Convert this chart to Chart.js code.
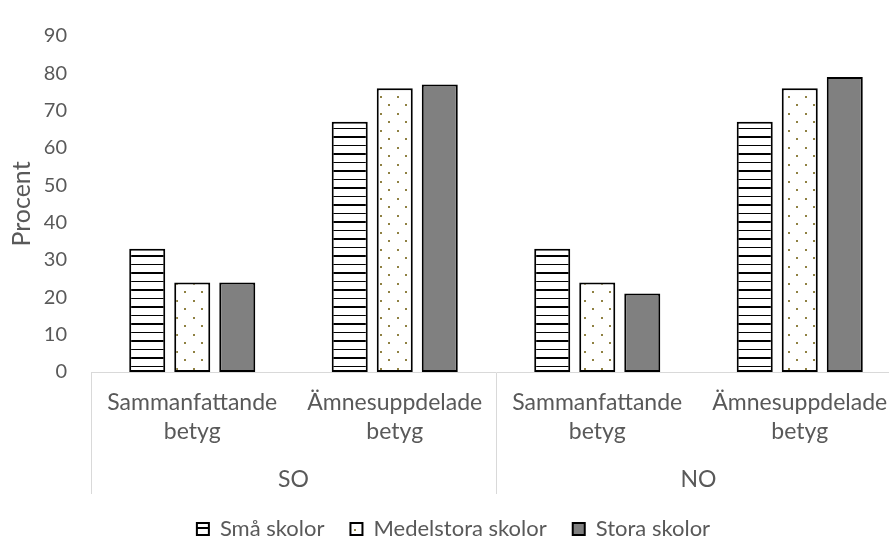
<!DOCTYPE html>
<html>
<head>
    <meta charset="utf-8">
    <script src="https://cdn.jsdelivr.net/npm/chart.js@4.4.1/dist/chart.umd.min.js"></script>
    <style>
        body { margin: 0; overflow: hidden; background: #fff; }
    </style>
</head>
<body>
    <canvas id="myChart" width="912" height="540"></canvas>

    <script>
        const categories = [['Sammanfattande', 'betyg'], ['Ämnesuppdelade', 'betyg'], ['Sammanfattande', 'betyg'], ['Ämnesuppdelade', 'betyg']];
        const subjects = ['SO', 'NO'];
        const yTicks = [0, 10, 20, 30, 40, 50, 60, 70, 80, 90];

        const smaSkolor = [33, 67, 33, 67];
        const medelstoraSkolor = [24, 76, 24, 76];
        const storaSkolor = [24, 77, 21, 79];

        const textColor = '#595959';
        const lineColor = '#d9d9d9';
        const labelSize = 23;

        // hatch fills for the bars
        function stripes() {
            const c = document.createElement('canvas');
            c.width = 17; c.height = 17;
            const g = c.getContext('2d');
            g.fillStyle = '#fff';
            g.fillRect(0, 0, 17, 17);
            g.fillStyle = '#000';
            g.fillRect(0, 0, 17, 2);
            g.fillRect(0, 9, 17, 1);
            return g.createPattern(c, 'repeat');
        }

        function dots() {
            const c = document.createElement('canvas');
            c.width = 17; c.height = 17;
            const g = c.getContext('2d');
            g.fillStyle = '#fff';
            g.fillRect(0, 0, 17, 17);
            g.fillStyle = '#8f8143';
            g.fillRect(6, 11, 2, 2);
            g.fillRect(14, 2, 2, 2);
            return g.createPattern(c, 'repeat');
        }

        Chart.defaults.font.family = 'Lato';
        Chart.defaults.font.size = labelSize;
        Chart.defaults.color = textColor;

        const data = {
            labels: categories,
            datasets: [{
                label: 'Små skolor',
                data: smaSkolor,
                backgroundColor: stripes(),
            },
            {
                label: 'Medelstora skolor',
                data: medelstoraSkolor,
                backgroundColor: dots(),
            },
            {
                label: 'Stora skolor',
                data: storaSkolor,
                backgroundColor: '#808080',
            }]
        };

        const config = {
            type: 'bar',
            data: data,
            options: {
                responsive: false,
                animation: false,
                categoryPercentage: 0.667,
                barPercentage: 0.8,
                datasets: {
                    bar: {
                        borderColor: '#000',
                        borderWidth: 2,
                        borderSkipped: false
                    }
                },
                layout: {
                    padding: { top: 24, right: 11, bottom: -10, left: 6 }
                },
                plugins: {
                    legend: {
                        position: 'bottom',
                        labels: {
                            boxWidth: 12,
                            boxHeight: 12,
                            padding: 26,
                            font: { size: 22 }
                        }
                    },
                    tooltip: { enabled: false }
                },
                scales: {
                    x: {
                        offset: true,
                        ticks: {
                            maxRotation: 0,
                            autoSkip: false,
                            // labels sit inside the long divider ticks
                            padding: -105.5,
                            font: { size: labelSize, lineHeight: 29 / labelSize }
                        },
                        grid: {
                            offset: true,
                            drawOnChartArea: false,
                            tickLength: 122,
                            // only the outer edges of SO / NO get a divider
                            color: ctx => (ctx.index === undefined || ctx.index % 2 === 0) ? lineColor : 'rgba(0,0,0,0)'
                        },
                        border: { color: lineColor },
                        afterFit: s => { s.height = 75; }
                    },
                    x2: {
                        type: 'category',
                        labels: subjects,
                        position: 'bottom',
                        offset: true,
                        ticks: {
                            padding: 18.5,
                            font: { size: labelSize, lineHeight: 29 / labelSize }
                        },
                        grid: { display: false, drawTicks: false },
                        border: { display: false },
                        afterFit: s => { s.height = 45; }
                    },
                    y: {
                        min: 0,
                        max: 90,
                        afterBuildTicks: s => { s.ticks = yTicks.map(v => ({ value: v })); },
                        ticks: { padding: 24, font: { size: 20 } },
                        grid: { display: false, drawTicks: false },
                        border: { display: false },
                        title: {
                            display: true,
                            text: 'Procent',
                            font: { size: 25 },
                            padding: { top: 1, bottom: 7 }
                        },
                        afterFit: s => { s.width = 85; }
                    }
                }
            }
        };

        var chart = new Chart(document.getElementById('myChart'), config);
    </script>
</body>
</html>
